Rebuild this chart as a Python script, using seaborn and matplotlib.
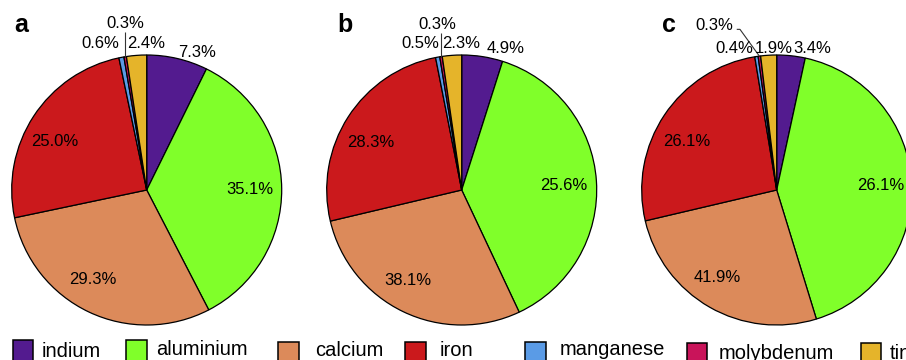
import matplotlib
matplotlib.use("Agg")
import matplotlib.pyplot as plt
from matplotlib.patches import Rectangle
import numpy as np
import seaborn as sns

# ---- data -------------------------------------------------------------
elements = ["indium", "aluminium", "calcium", "iron", "manganese", "molybdenum", "tin"]
panel_names = ["a", "b", "c"]
share_a = [7.3, 35.1, 29.3, 25.0, 0.6, 0.3, 2.4]
share_b = [4.9, 38.1, 28.3, 25.6, 0.5, 0.3, 2.3]
share_c = [3.4, 41.9, 26.1, 26.1, 0.4, 0.3, 1.9]

# ---- style ------------------------------------------------------------
element_colors = ["#531B8F", "#80FF2A", "#DC8A5A", "#CB191C",
                  "#5A9BE6", "#C9145A", "#E5B42A"]

sns.set_theme(style="white")
plt.rcParams["font.family"] = ["Liberation Sans", "DejaVu Sans"]
palette = sns.color_palette(element_colors)

# ---- layout (pixels, origin top-left; pie label anchors in radius units) --
W, H = 906, 360
R_PX = 135.0
pie_cx = [146.7, 461.7, 776.7]
pie_cy = 190.0
half_w = 157.5

# per-panel label anchors (x, y, ha) in units of the pie radius, element order
label_pos = [
    [(0.232, 0.983, "left"), (0.765, -0.030, "center"), (-0.400, -0.699, "center"),
     (-0.679, 0.326, "center"), (-0.205, 1.052, "right"), (-0.157, 1.200, "center"),
     (-0.005, 1.052, "center")],
    [(0.185, 1.015, "left"), (-0.396, -0.704, "center"), (-0.673, 0.316, "center"),
     (0.759, 0.000, "center"), (-0.168, 1.052, "right"), (-0.179, 1.193, "center"),
     (-0.007, 1.052, "center")],
    [(0.123, 1.012, "left"), (-0.444, -0.679, "center"), (-0.670, 0.326, "center"),
     (0.768, 0.000, "center"), (-0.173, 1.012, "right"), (-0.463, 1.185, "center"),
     (-0.019, 1.012, "center")],
]
# leader line for the molybdenum label: points before the slice edge
leader_head = [
    "vertical", "vertical", [(-0.296, 1.19), (-0.272, 1.19)],
]
leader_top = [1.173, 1.163, None]
leader_idx = elements.index("molybdenum")

letter_x = [14.0, 337.3, 662.3]
letter_base = 31.7

legend_box = [(12.7, 340.0), (126.0, 340.0), (278.3, 341.7), (405.0, 341.7),
              (525.0, 341.7), (686.7, 343.3), (860.5, 343.3)]
legend_text = [(41.7, 357.0), (156.0, 355.0), (315.0, 356.0), (440.0, 356.0),
               (559.3, 355.0), (718.3, 359.3), (890.0, 359.0)]

LABEL_FS = 12
LEGEND_FS = 14.5

fig = plt.figure(figsize=(W / 100, H / 100), dpi=100)

for i, vals in enumerate([share_a, share_b, share_c]):
    cx = pie_cx[i]
    ax = fig.add_axes([(cx - half_w) / W, 0, 2 * half_w / W, 1])
    ax.pie(vals, colors=palette, startangle=90, counterclock=False,
           wedgeprops=dict(edgecolor="black", linewidth=0.9))
    ax.set_xlim(-half_w / R_PX, half_w / R_PX)
    ax.set_ylim(-(H - pie_cy) / R_PX, pie_cy / R_PX)
    ax.set_aspect("auto")
    ax.axis("off")

    for v, (x, y, ha) in zip(vals, label_pos[i]):
        ax.text(x, y, f"{v:.1f}%", ha=ha, va="baseline", fontsize=LABEL_FS,
                color="black", clip_on=False)

    # leader line from the molybdenum label down to its slice
    frac = np.asarray(vals, dtype=float) / np.sum(vals)
    before = frac[:leader_idx].sum()
    mid = np.deg2rad(90 - 360 * (before + frac[leader_idx] / 2))
    ex, ey = np.cos(mid), np.sin(mid)
    if leader_head[i] == "vertical":
        xs, ys = [ex, ex], [leader_top[i], ey]
    else:
        xs = [p[0] for p in leader_head[i]] + [ex]
        ys = [p[1] for p in leader_head[i]] + [ey]
    ax.plot(xs, ys, color="#333333", lw=0.8, clip_on=False, solid_capstyle="butt")

# overlay for panel letters and the legend
ov = fig.add_axes([0, 0, 1, 1])
ov.set_xlim(0, W)
ov.set_ylim(H, 0)
ov.axis("off")

for name, x in zip(panel_names, letter_x):
    ov.text(x, letter_base, name, fontsize=18, fontweight="bold",
            ha="left", va="baseline", color="black")

for name, col, (bx, by), (tx, ty) in zip(elements, palette, legend_box, legend_text):
    ov.add_patch(Rectangle((bx, by), 20.5, 20.5, facecolor=col,
                           edgecolor="black", linewidth=1.1, clip_on=False))
    ov.text(tx, ty, name, fontsize=LEGEND_FS, ha="left", va="baseline",
            color="black")

fig.savefig("out.png", dpi=100)
